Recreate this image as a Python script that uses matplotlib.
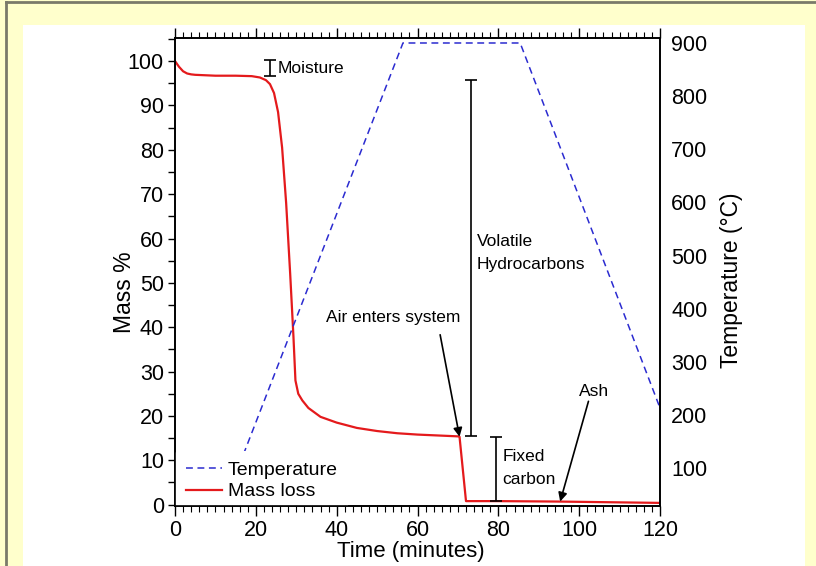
import matplotlib
matplotlib.use("Agg")
import matplotlib.pyplot as plt
from matplotlib.lines import Line2D
from matplotlib.patches import Rectangle
from matplotlib.ticker import MultipleLocator

plt.rcParams['font.family'] = ['Liberation Sans', 'DejaVu Sans']

# ---- data ----
mass_time = [0, 1, 2, 3, 4, 5, 10, 15, 19, 21, 22.5, 23.5, 24.5, 25.5, 26.5, 27.5, 28.5, 29.3,
             29.8, 30.5, 31.5, 33, 36, 40, 45, 50, 55, 60, 65, 70, 70.4, 72, 80, 95, 120]
mass_pct = [100, 98.7, 97.7, 97.2, 97.0, 96.9, 96.7, 96.7, 96.6, 96.3, 95.7, 94.8, 92.8, 88.5,
            80.5, 68.0, 52.0, 38.0, 28.0, 25.0, 23.5, 21.8, 19.8, 18.5, 17.3, 16.6, 16.1, 15.8,
            15.6, 15.4, 15.3, 0.8, 0.8, 0.7, 0.4]

temp_time = [11.8, 56.4, 85.4, 120]
temp_c = [25, 900, 900, 213]

x_ticks = [0, 20, 40, 60, 80, 100, 120]
mass_ticks = [0, 10, 20, 30, 40, 50, 60, 70, 80, 90, 100]
temp_ticks = [100, 200, 300, 400, 500, 600, 700, 800, 900]

# ---- figure ----
fig = plt.figure(figsize=(8.16, 5.66), dpi=100, facecolor='#ffffcc')
W, H = 816, 566
# white panel and left/top border
fig.patches.append(Rectangle((23 / W, 0), (805 - 23) / W, (H - 25) / H,
                             transform=fig.transFigure, facecolor='white', edgecolor='none',
                             zorder=-10))
fig.add_artist(Line2D([5.5 / W, 5.5 / W], [0, 1 - 1.5 / H], transform=fig.transFigure,
                      color='#7a7a6a', lw=2.0, zorder=-10))
fig.add_artist(Line2D([5.5 / W, 1], [1 - 1.5 / H, 1 - 1.5 / H], transform=fig.transFigure,
                      color='#7a7a6a', lw=2.0, zorder=-10))

ax = fig.add_axes([175 / W, (H - 506) / H, (660 - 175) / W, (506 - 38) / H])
ax.set_facecolor('none')
ax2 = ax.twinx()

red = '#e41a1c'
blue = '#2b2bd0'

ln_mass, = ax.plot(mass_time, mass_pct, color=red, lw=1.6)
ln_temp, = ax2.plot(temp_time, temp_c, color=blue, lw=1.1, dashes=(4.5, 3), zorder=1.5)

ax.set_xlim(0, 120)
ax.set_ylim(-0.3, 105.2)
ax2.set_ylim(28.5, 909.4)

ax.set_xticks(x_ticks)
ax.xaxis.set_minor_locator(MultipleLocator(2))
ax.set_yticks(mass_ticks)
ax.yaxis.set_minor_locator(MultipleLocator(5))
ax2.set_yticks(temp_ticks)

ax.tick_params(axis='x', which='major', direction='out', length=7, width=1, labelsize=15.5,
               top=True, pad=3)
ax.tick_params(axis='x', which='minor', direction='out', length=4, width=0.8, top=True)
ax.tick_params(axis='y', which='major', direction='out', length=5, width=1, labelsize=15.5,
               pad=3)
ax.tick_params(axis='y', which='minor', direction='out', length=5, width=1)
ax2.tick_params(axis='y', which='both', length=0, labelsize=15.5, pad=8)

for a in (ax, ax2):
    for s in a.spines.values():
        s.set_linewidth(1.2)

ax.set_xlabel('Time (minutes)', fontsize=16, labelpad=0)
ax.xaxis.label.set_x(0.486)
ax.set_ylabel('Mass %', fontsize=16.5)
ax.yaxis.set_label_coords(-0.08, 0.457)
ax2.set_ylabel('Temperature (\u00b0C)', fontsize=16.5, labelpad=9)
ax2.yaxis.label.set_y(0.483)

# annotations (in mass/time coordinates)
def ibar(x, y0, y1):
    ax.errorbar([x], [(y0 + y1) / 2], yerr=[(y1 - y0) / 2], color='k', lw=1.2,
                capsize=4, capthick=1.2, zorder=5)

afs = 12.5
ibar(23.5, 96.6, 100.2)
ax.text(25.3, 98.3, 'Moisture', fontsize=afs, va='center', ha='left')

ibar(73.2, 15.5, 95.7)
ax.text(74.6, 56.8, 'Volatile\nHydrocarbons', fontsize=afs, va='center', ha='left',
        linespacing=1.7)

ibar(79.5, 0.8, 15.3)
ax.text(81.0, 8.3, 'Fixed\ncarbon', fontsize=afs, va='center', ha='left', linespacing=1.65)

ax.text(54.0, 42.3, 'Air enters system', fontsize=afs, ha='center', va='center')
ax.annotate('', xy=(70.4, 15.3), xytext=(65.6, 38.3),
            arrowprops=dict(arrowstyle='-|>', color='k', lw=1.2, mutation_scale=13,
                            shrinkA=0, shrinkB=0))
ax.text(103.8, 25.5, 'Ash', fontsize=afs, ha='center', va='center')
ax.annotate('', xy=(95.3, 0.7), xytext=(102.3, 23.3),
            arrowprops=dict(arrowstyle='-|>', color='k', lw=1.2, mutation_scale=13,
                            shrinkA=0, shrinkB=0))

leg = ax2.legend([ln_temp, ln_mass], ['Temperature', 'Mass loss'], loc='lower left',
                 bbox_to_anchor=(0.0, -0.0107), fontsize=14, frameon=True, facecolor='white',
                 edgecolor='none', framealpha=1, handlelength=1.85, handletextpad=0.3,
                 borderpad=0.55, labelspacing=0.2, borderaxespad=0.0)
leg.set_zorder(2.2)
leg.legendPatch.set_clip_box(ax.bbox)
leg.legendPatch.set_clip_on(True)

fig.savefig('out.png', dpi=100, facecolor=fig.get_facecolor())
